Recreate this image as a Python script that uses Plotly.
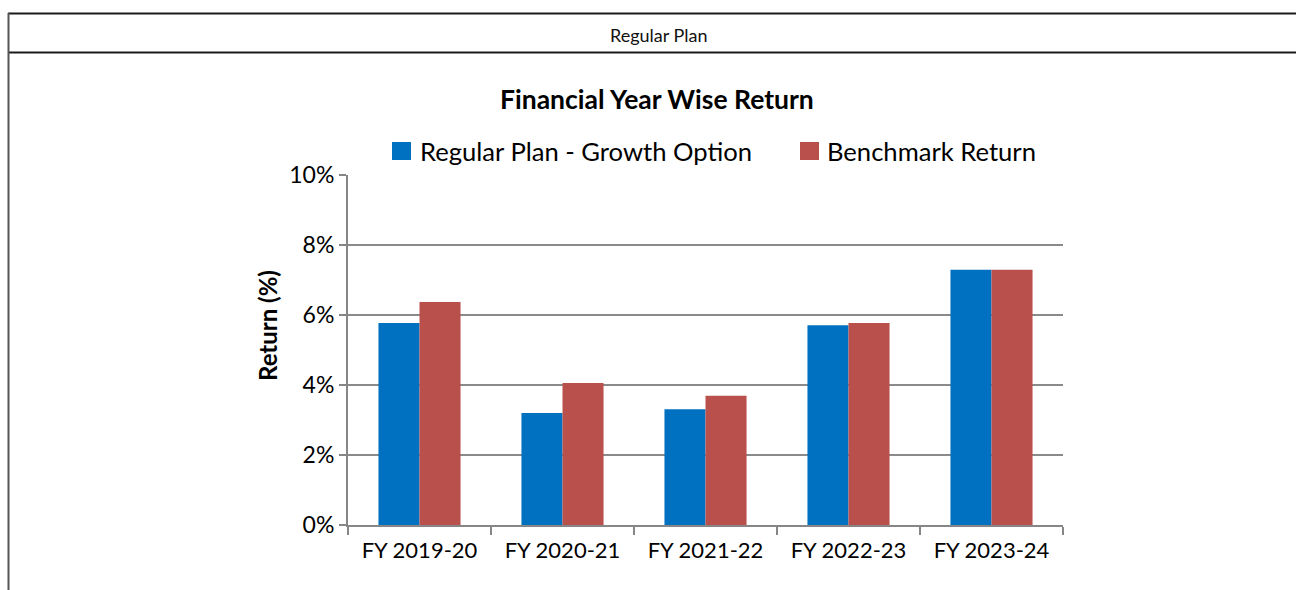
import plotly.graph_objects as go

categories = ["FY 2019-20", "FY 2020-21", "FY 2021-22", "FY 2022-23", "FY 2023-24"]
series_names = ["Regular Plan - Growth Option", "Benchmark Return"]
regular_growth = [5.77, 3.20, 3.31, 5.71, 7.29]
benchmark = [6.37, 4.06, 3.69, 5.77, 7.29]
colors = ["#0070C0", "#B9504C"]
y_ticks = [0, 2, 4, 6, 8, 10]
y_tick_labels = ["0%", "2%", "4%", "6%", "8%", "10%"]

W, H = 1296, 590
def px(x):
    return x / W
def py(y):
    return 1 - y / H

FONT = "Lato"
fig = go.Figure()
for name, vals, c in zip(series_names, [regular_growth, benchmark], colors):
    fig.add_trace(go.Bar(x=categories, y=vals, name=name, marker=dict(color=c, line=dict(width=0)),
                         showlegend=False))

shapes = [
    dict(type="line", xref="paper", yref="paper", x0=px(8), x1=1, y0=py(13.5), y1=py(13.5),
         line=dict(color="#1a1a1a", width=2)),
    dict(type="line", xref="paper", yref="paper", x0=px(8), x1=1, y0=py(52.5), y1=py(52.5),
         line=dict(color="#1a1a1a", width=2)),
    dict(type="line", xref="paper", yref="paper", x0=px(8.5), x1=px(8.5), y0=py(13), y1=0,
         line=dict(color="#555555", width=2)),
]
annotations = [
    dict(text="Regular Plan", xref="paper", yref="paper", x=px(659), y=py(35), showarrow=False,
         xanchor="center", yanchor="middle", font=dict(family=FONT, size=18, color="#111")),
    dict(text="<b>Financial Year Wise Return</b>", xref="paper", yref="paper", x=px(657), y=py(99),
         showarrow=False, xanchor="center", yanchor="middle", font=dict(family=FONT, size=26.5, color="#000")),
    dict(text="<b>Return (%)</b>", xref="paper", yref="paper", x=px(268), y=py(326), textangle=-90,
         showarrow=False, xanchor="center", yanchor="middle", font=dict(family=FONT, size=24, color="#000")),
]
# manual legend
leg_pos = [(392, 418), (800, 825)]
for (sx, tx), name, c in zip(leg_pos, series_names, colors):
    shapes.append(dict(type="rect", xref="paper", yref="paper", x0=px(sx), x1=px(sx + 19),
                       y0=py(160), y1=py(142), fillcolor=c, line=dict(width=0)))
    annotations.append(dict(text=name, xref="paper", yref="paper", x=px(tx), y=py(151), showarrow=False,
                            xanchor="left", yanchor="middle", font=dict(family=FONT, size=25.6, color="#000")))

fig.update_layout(
    width=W, height=H, margin=dict(l=0, r=0, t=0, b=0, autoexpand=False),
    paper_bgcolor="white", plot_bgcolor="white",
    barmode="group", bargap=0.426, bargroupgap=0,
    font=dict(family=FONT, color="#000"),
    shapes=shapes, annotations=annotations,
    xaxis=dict(domain=[px(348), px(1063)], showline=True, linecolor="#868686", linewidth=2,
               ticks="outside", tickson="boundaries", ticklen=8, tickcolor="#868686", tickwidth=2,
               ticklabelstandoff=5,
               tickfont=dict(family=FONT, size=22, color="#000"), showgrid=False, automargin=False),
    yaxis=dict(domain=[py(525), py(175)], range=[0, 10], tickvals=y_ticks, ticktext=y_tick_labels,
               showline=True, linecolor="#868686", linewidth=2, ticks="outside", ticklen=7,
               tickcolor="#868686", tickwidth=2, showgrid=True, gridcolor="#8a8a8a", gridwidth=2,
               zeroline=False, tickfont=dict(family=FONT, size=23, color="#000"), automargin=False),
)

fig.write_html("out.html", config={"displayModeBar": False},
               post_script="document.body.style.margin='0';document.body.style.overflow='hidden';")
